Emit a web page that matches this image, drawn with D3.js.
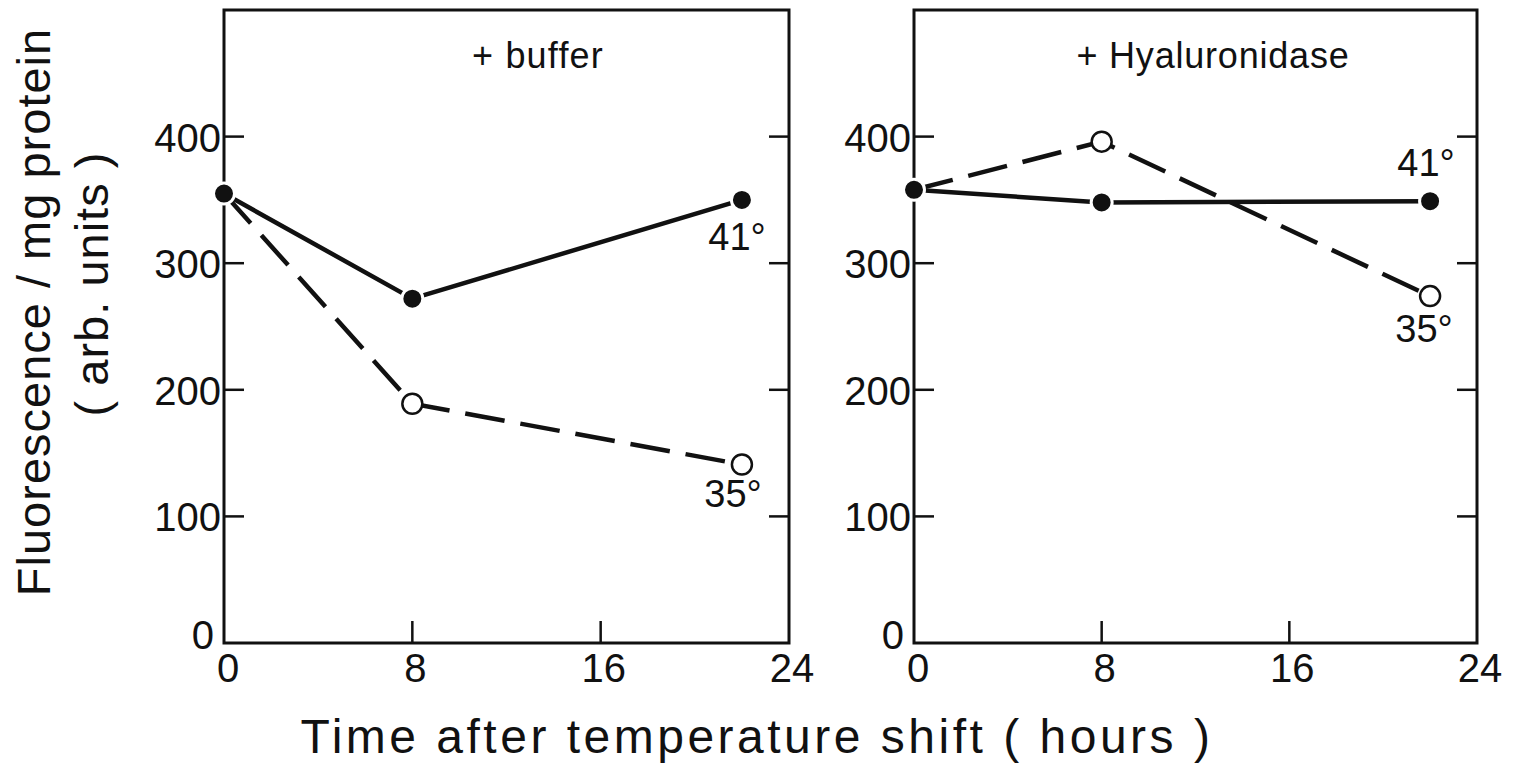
<!DOCTYPE html>
<html><head><meta charset="utf-8">
<script src="https://cdn.jsdelivr.net/npm/d3@7"></script>
<style>
body{margin:0;background:#fff;}
text{font-family:"Liberation Sans","DejaVu Sans",sans-serif;fill:#111;}
</style></head><body>
<svg id="c" width="1514" height="766"></svg>
<script>
const hours = [0, 8, 22];
const xTicks = [0, 8, 16, 24];
const yTicks = [0, 100, 200, 300, 400];
const panelTitles = ["+ buffer", "+ Hyaluronidase"];
const buffer41 = [355, 272, 350];
const buffer35 = [355, 189, 141];
const hyal41 = [358, 348, 349];
const hyal35 = [358, 396, 274];
const seriesLabels = ["41°", "35°"];

const svg = d3.select("#c");
const panels = [
  {left:224, right:789, title:panelTitles[0], s41:buffer41, s35:buffer35,
   lab41:{x:737, y:250}, lab35:{x:733, y:507}, titleX:538, ls:1.2},
  {left:914, right:1477, title:panelTitles[1], s41:hyal41, s35:hyal35,
   lab41:{x:1426, y:176}, lab35:{x:1424, y:342}, titleX:1213, ls:0.8}
];
const plotTop = 10, plotBottom = 643;

panels.forEach(p => {
  const x = d3.scaleLinear().domain([0,24]).range([p.left, p.right]);
  const y = d3.scaleLinear().domain([0,500]).range([plotBottom, plotTop]);
  const g = svg.append("g");
  g.append("rect").attr("x", p.left).attr("y", plotTop)
    .attr("width", p.right - p.left).attr("height", plotBottom - plotTop)
    .attr("fill", "none").attr("stroke", "#111").attr("stroke-width", 3);
  const yt = yTicks.filter(d => d > 0);
  g.selectAll(".tl").data(yt).enter().append("line")
    .attr("x1", p.left).attr("x2", p.left + 20)
    .attr("y1", d => y(d)).attr("y2", d => y(d))
    .attr("stroke", "#111").attr("stroke-width", 2.5);
  g.selectAll(".tr").data(yt).enter().append("line")
    .attr("x1", p.right).attr("x2", p.right - 20)
    .attr("y1", d => y(d)).attr("y2", d => y(d))
    .attr("stroke", "#111").attr("stroke-width", 2.5);
  g.selectAll(".tb").data(xTicks.slice(1, -1)).enter().append("line")
    .attr("x1", d => x(d)).attr("x2", d => x(d))
    .attr("y1", plotBottom).attr("y2", plotBottom - 22)
    .attr("stroke", "#111").attr("stroke-width", 2.5);
  g.selectAll(".yl").data(yTicks).enter().append("text")
    .attr("x", d => d === 0 ? p.left - 10 : p.left - 3)
    .attr("y", d => d === 0 ? y(d) + 6 : y(d) + 15)
    .attr("text-anchor", "end")
    .attr("font-size", 40)
    .text(d => d);
  g.selectAll(".xl").data(xTicks).enter().append("text")
    .attr("x", d => x(d) + (d === 0 ? 4 : 3))
    .attr("y", 682)
    .attr("text-anchor", "middle")
    .attr("font-size", 40)
    .text(d => d);
  g.append("text").attr("x", p.titleX).attr("y", 68)
    .attr("text-anchor", "middle").attr("font-size", 36)
    .attr("letter-spacing", p.ls)
    .text(p.title);
  const line = d3.line().x((d,i) => x(hours[i])).y(d => y(d));
  g.append("path").attr("d", line(p.s35)).attr("fill", "none")
    .attr("stroke", "#111").attr("stroke-width", 4.5)
    .attr("stroke-dasharray", "40,16");
  g.append("path").attr("d", line(p.s41)).attr("fill", "none")
    .attr("stroke", "#111").attr("stroke-width", 4.5);
  g.selectAll(".o").data(p.s35.slice(1)).enter().append("circle")
    .attr("cx", (d,i) => x(hours[i+1])).attr("cy", d => y(d)).attr("r", 10)
    .attr("fill", "#fff").attr("stroke", "#111").attr("stroke-width", 2.5);
  g.selectAll(".f").data(p.s41).enter().append("circle")
    .attr("cx", (d,i) => x(hours[i])).attr("cy", d => y(d)).attr("r", 10.5)
    .attr("fill", "#111").attr("stroke", "#fff").attr("stroke-width", 3);
  g.append("text").attr("x", p.lab41.x).attr("y", p.lab41.y)
    .attr("text-anchor", "middle").attr("font-size", 38).text(seriesLabels[0]);
  g.append("text").attr("x", p.lab35.x).attr("y", p.lab35.y)
    .attr("text-anchor", "middle").attr("font-size", 38).text(seriesLabels[1]);
});

svg.append("text").attr("x", 757).attr("y", 753)
  .attr("text-anchor", "middle").attr("font-size", 48)
  .attr("letter-spacing", 3.5)
  .text("Time after temperature shift ( hours )");
svg.append("text").attr("transform", "translate(50,312) rotate(-90)")
  .attr("text-anchor", "middle").attr("font-size", 47)
  .attr("letter-spacing", 1)
  .text("Fluorescence / mg protein");
svg.append("text").attr("transform", "translate(108,284) rotate(-90)")
  .attr("text-anchor", "middle").attr("font-size", 47)
  .attr("letter-spacing", 1)
  .text("( arb. units )");
</script></body></html>
